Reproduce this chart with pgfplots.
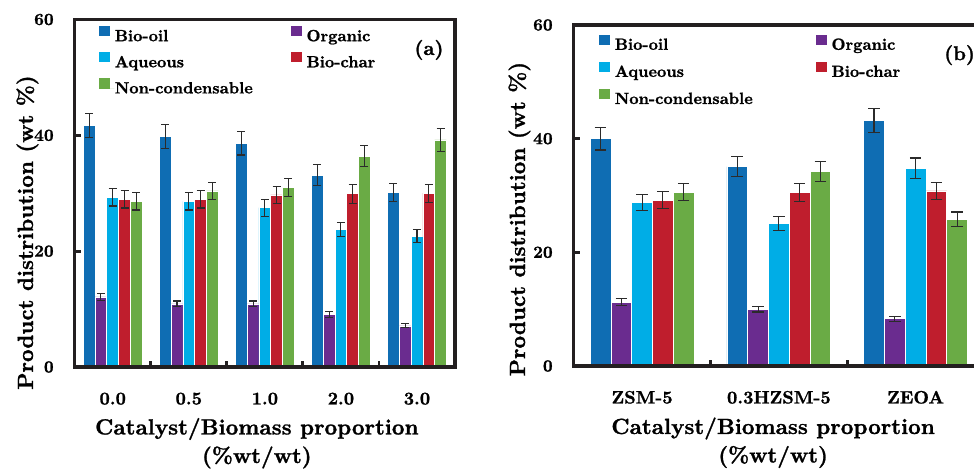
\documentclass[border=0pt]{standalone}
\usepackage{fontspec}
\setmainfont{lmroman10-regular.otf}[
  BoldFont=lmroman10-bold.otf,
  BoldFeatures={FakeBold=1.2}]
\usepackage{pgfplots}
\usepackage{pgfplotstable}
\pgfplotsset{compat=1.18}

\definecolor{oilc}{RGB}{15,109,179}
\definecolor{orgc}{RGB}{106,44,143}
\definecolor{aqc}{RGB}{0,173,230}
\definecolor{charc}{RGB}{191,30,45}
\definecolor{gasc}{RGB}{106,171,69}
\definecolor{axisc}{RGB}{35,31,32}
\definecolor{errc}{RGB}{43,43,43}

% Product yields (wt %) and their error bars, panel (a): catalyst/biomass ratio
\pgfplotstableread{
x oil  oile org  orge aq   aqe  chr  chre gas  gase
0 41.7 2.05 12.1 0.60 29.3 1.50 29.0 1.55 28.6 1.50
1 39.8 2.00 10.9 0.50 28.6 1.50 29.0 1.55 30.4 1.50
2 38.6 2.00 10.9 0.50 27.5 1.45 29.7 1.50 31.0 1.55
3 33.1 1.80  9.1 0.55 23.7 1.20 29.9 1.60 36.4 1.85
4 30.2 1.55  7.1 0.35 22.6 1.10 30.0 1.55 39.2 2.00
}\ratiotable

% Panel (b): catalyst type
\pgfplotstableread{
x oil  oile org  orge aq   aqe  chr  chre gas  gase
0 40.0 2.00 11.2 0.60 28.8 1.45 29.2 1.50 30.6 1.55
1 35.1 1.75 10.0 0.50 25.1 1.20 30.5 1.55 34.2 1.75
2 43.2 2.10  8.3 0.45 34.8 1.80 30.8 1.55 25.8 1.30
}\catalysttable

\pgfplotsset{
  productaxis/.style={
    scale only axis, axis on top, ybar,
    ymin=0, ymax=60, ytick={0,20,40,60},
    xtick pos=bottom, ytick pos=left,
    x tick label as interval,
    /pgf/number format/assume math mode=true,
    axis line style={line width=1.65pt, color=axisc},
    tick align=inside, major tick length=3.2pt,
    tick style={line width=1.4pt, color=axisc},
    xticklabel style={font=\fontsize{9}{10}\selectfont\bfseries, anchor=base, inner sep=0pt, yshift=-18.75pt},
    yticklabel style={font=\fontsize{8.5}{10}\selectfont\bfseries, anchor=east, inner sep=0pt, xshift=-10.3pt},
    label style={font=\fontsize{11}{14.25}\selectfont\bfseries, inner sep=0pt},
    ylabel={Product distribution (wt \%)},
    xlabel={\begin{tabular}[t]{@{}c@{}}Catalyst/Biomass proportion\\(\%wt/wt)\end{tabular}},
    legend columns=2, legend cell align=left,
    legend image code/.code={\fill[##1, draw=none] (0pt,0pt) rectangle (5.3pt,5.3pt); \path (0pt,0pt) -- (7.5pt,0pt);},
  },
  prodlegend/.style n args={4}{legend style={at={(axis description cs:#1,#2)}, anchor=north west,
      draw=none, fill=none, inner sep=0pt, outer sep=0pt, row sep=#3, column sep=0pt,
      font=\fontsize{8.1}{10}\selectfont\bfseries,
      nodes={inner sep=0pt, text height=6.5pt, text depth=2pt},
      /tikz/every even column/.append style={column sep=#4}}},
  errs/.style={/pgfplots/error bars/y dir=both, /pgfplots/error bars/y explicit,
    /pgfplots/error bars/error bar style={line width=0.55pt, color=errc},
    /pgfplots/error bars/error mark options={rotate=90, line width=0.55pt, color=errc, mark size=#1}},
}

\begin{document}
\begin{tikzpicture}
\useasboundingbox (0pt,0pt) rectangle (487pt,235.5pt);
\clip (0pt,0pt) rectangle (487pt,235.5pt);

% (a) effect of the catalyst/biomass proportion
\begin{axis}[productaxis,
  at={(37.35pt,52pt)}, anchor=south west, width=190.15pt, height=173.75pt,
  xmin=-0.5, xmax=4.5, bar width=0.155,
  xtick={-0.5,0.5,1.5,2.5,3.5,4.5}, xticklabels={0.0,0.5,1.0,2.0,3.0},
  xlabel style={at={(axis description cs:0.479,0)}, anchor=base, yshift=-33.75pt},
  ylabel style={at={(axis description cs:-0.1097,0.387)}, anchor=base},
  prodlegend={0.064}{0.981}{3.5pt}{19pt},
]
\addplot[fill=oilc, draw=white, line width=0.35pt, bar shift=-0.31, errs=2pt] table[x=x, y=oil, y error=oile]{\ratiotable};
\addplot[fill=orgc, draw=white, line width=0.35pt, bar shift=-0.155, errs=2pt] table[x=x, y=org, y error=orge]{\ratiotable};
\addplot[fill=aqc, draw=white, line width=0.35pt, bar shift=0, errs=2pt] table[x=x, y=aq, y error=aqe]{\ratiotable};
\addplot[fill=charc, draw=white, line width=0.35pt, bar shift=0.155, errs=2pt] table[x=x, y=chr, y error=chre]{\ratiotable};
\addplot[fill=gasc, draw=white, line width=0.35pt, bar shift=0.31, errs=2pt] table[x=x, y=gas, y error=gase]{\ratiotable};
\legend{Bio-oil, Organic, Aqueous, Bio-char, Non-condensable}
\node[anchor=base, inner sep=0pt, font=\fontsize{10}{12}\selectfont\bfseries] at (axis description cs:0.9316,0.898) {(a)};
\end{axis}

% (b) effect of the catalyst type
\begin{axis}[productaxis,
  at={(286.85pt,52.5pt)}, anchor=south west, width=205.15pt, height=170.5pt,
  xmin=-0.5, xmax=2.5, bar width=0.152,
  xtick={-0.5,0.5,1.5,2.5}, xticklabels={ZSM-5,0.3HZSM-5,ZEOA},
  xlabel style={at={(axis description cs:0.486,0)}, anchor=base, yshift=-34pt},
  ylabel style={at={(axis description cs:-0.1187,0.431)}, anchor=base},
  prodlegend={0.0617}{0.9716}{4pt}{31.5pt},
]
\addplot[fill=oilc, draw=white, line width=0.35pt, bar shift=-0.304, errs=2.9pt] table[x=x, y=oil, y error=oile]{\catalysttable};
\addplot[fill=orgc, draw=white, line width=0.35pt, bar shift=-0.152, errs=2.9pt] table[x=x, y=org, y error=orge]{\catalysttable};
\addplot[fill=aqc, draw=white, line width=0.35pt, bar shift=0, errs=2.9pt] table[x=x, y=aq, y error=aqe]{\catalysttable};
\addplot[fill=charc, draw=white, line width=0.35pt, bar shift=0.152, errs=2.9pt] table[x=x, y=chr, y error=chre]{\catalysttable};
\addplot[fill=gasc, draw=white, line width=0.35pt, bar shift=0.304, errs=2.9pt] table[x=x, y=gas, y error=gase]{\catalysttable};
\legend{Bio-oil, Organic, Aqueous, Bio-char, Non-condensable}
\node[anchor=base, inner sep=0pt, font=\fontsize{10}{12}\selectfont\bfseries] at (axis description cs:0.9405,0.897) {(b)};
\end{axis}
\end{tikzpicture}
\end{document}
